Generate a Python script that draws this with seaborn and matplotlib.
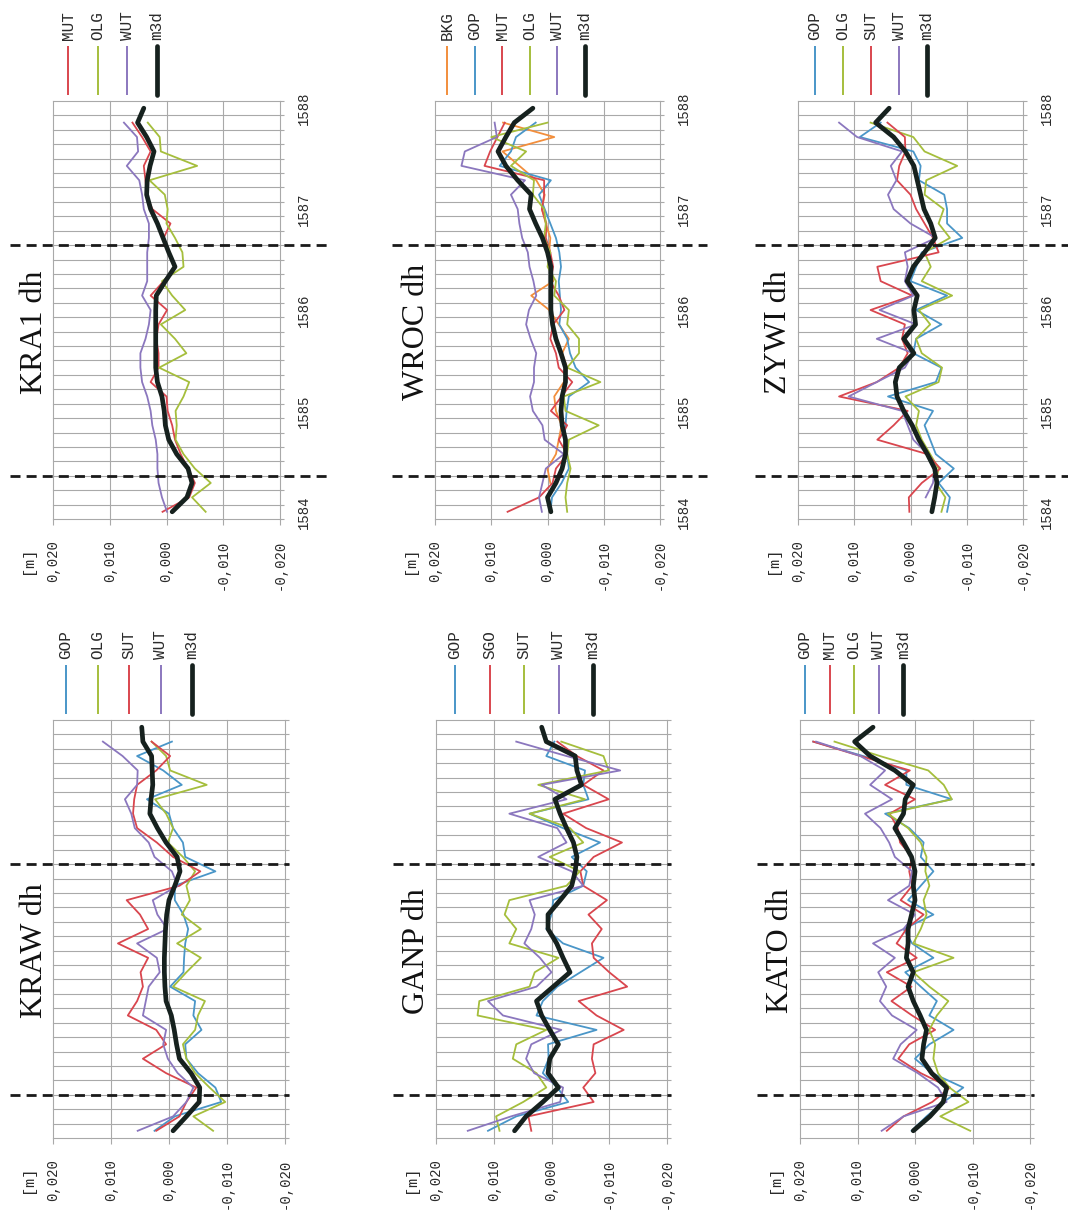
import numpy as np
import pandas as pd
import matplotlib
matplotlib.use("Agg")
import matplotlib.pyplot as plt
import matplotlib.transforms as mtrans
from matplotlib.lines import Line2D
import seaborn as sns

nan = np.nan

# daily solutions, GPS weeks 1584.0 - 1588.0 (29 days)
days = np.arange(29)
week_ticks = [0, 7, 14, 21, 28]
week_labels = ['1584', '1585', '1586', '1587', '1588']
value_ticks = [0.020, 0.010, 0.000, -0.010, -0.020]
value_labels = ['0,020', '0,010', '0,000', '-0,010', '-0,020']
breaks = [2.5, 18.5]   # dashed epochs

# dh values, in mm
kra1_mut = [0.7, -4.0, -5.0, -3.8, -2.5, -1.5, -1.0, -0.2, 0.0, 2.8, 1.4, 1.4, 1.8, 1.4, -0.1, 2.8, 0.5, -1.6, -0.5, 0.5, -0.7, 2.5, 3.5, 3.7, 4.0, 2.8, 4.3, 6.0, nan]
kra1_olg = [-6.9, -4.5, -7.8, -5.0, -3.0, -1.6, -1.8, -1.6, -3.0, -4.0, 1.3, -3.5, -1.5, 1.0, -3.3, -1.0, 0.8, -3.0, -2.8, -1.5, 0.0, -0.2, 0.3, 3.0, -5.4, 1.0, 1.2, 3.3, nan]
kra1_wut = [-0.1, 0.8, 1.4, 1.6, 1.6, 1.9, 2.5, 2.8, 3.4, 4.3, 4.6, 4.6, 3.7, 3.1, 2.8, 4.3, 3.4, 3.4, 3.4, 3.1, 3.1, 4.0, 4.3, 4.8, 7.0, 5.0, 5.2, 7.5, nan]
kra1_m3d = [-1.0, -3.6, -4.5, -3.8, -1.8, -0.4, 0.2, 0.4, 0.8, 1.6, 1.9, 1.9, 1.9, 1.9, 1.9, 1.8, 0.2, -1.5, -0.4, 0.6, 1.6, 2.8, 3.5, 3.4, 2.9, 2.2, 3.5, 5.1, 4.0]

wroc_bkg = [nan, nan, -0.5, 0.0, -1.5, -2.0, -2.5, -1.5, -1.2, -2.9, -3.5, -2.6, -3.8, -2.0, -0.3, 2.9, -1.0, -0.5, -0.3, -0.5, 0.3, 1.0, 0.5, 2.0, 5.0, 8.0, -1.2, 7.9, nan]
wroc_gop = [-0.5, -0.8, -2.5, -3.8, -3.5, -3.0, -3.2, -3.4, -3.8, -7.4, -5.0, -4.0, -3.5, -2.1, -2.4, -2.2, -2.0, -2.4, -2.1, -1.5, -0.5, 0.5, 1.5, -0.6, 8.5, 6.5, 5.6, 2.1, nan]
wroc_mut = [7.1, 1.5, -0.9, -1.5, -3.5, -2.0, -3.5, -0.6, -2.5, -4.4, -2.0, -1.5, -0.5, -1.0, -3.0, -2.0, -0.5, -1.0, -0.5, 0.3, 0.2, 1.0, 0.6, 0.6, 11.2, 10.2, 8.9, 7.6, nan]
wroc_olg = [-3.5, -3.2, -3.5, -4.1, -3.5, -3.8, -9.1, -3.2, -2.9, -9.4, -3.5, -5.6, -5.6, -3.5, -3.8, -1.2, -1.5, 0.0, -0.5, 0.6, 0.3, 0.6, 2.6, 2.4, 6.5, 3.8, 10.0, 0.0, nan]
wroc_wut = [1.0, 1.5, 0.9, 0.3, -2.9, 0.5, 0.9, 2.6, 3.1, 2.4, 2.4, 2.0, 3.0, 3.8, 3.3, 2.0, 2.5, 3.2, 3.5, 4.5, 5.0, 5.3, 6.5, 4.0, 15.3, 14.7, 9.0, 9.4, nan]
wroc_m3d = [-0.6, 0.0, -1.5, -2.6, -3.2, -3.2, -2.6, -2.4, -2.6, -3.2, -3.2, -2.4, -1.5, -0.9, -0.6, -0.6, -0.6, -0.6, 0.0, 0.9, 2.1, 3.2, 2.9, 5.3, 7.4, 8.8, 7.4, 5.9, 2.6]

zywi_gop = [-6.5, -7.0, -5.0, -7.7, -4.5, -3.5, -2.5, -4.0, 4.0, -4.5, -5.5, -0.5, -1.0, -5.5, -1.0, -6.5, 0.0, -1.0, -2.0, -9.2, -6.5, -6.5, -6.0, -1.5, -1.8, -0.5, 9.0, 5.3, nan]
zywi_olg = [-5.5, -6.2, -4.5, -5.0, -3.5, -2.0, -1.0, -1.5, 0.9, -5.0, -5.6, -2.0, -1.0, -3.5, -1.5, -7.4, -2.0, -3.6, -2.5, -7.0, -5.0, -5.9, -2.5, -2.8, -8.3, -2.5, -0.5, 7.1, nan]
zywi_sut = [0.2, 0.3, -2.0, -5.3, -3.0, 5.9, 3.0, 0.5, 12.7, 6.0, 2.0, 0.5, 1.5, 1.0, 7.1, -0.3, 5.3, 5.9, -5.0, -4.0, -2.5, -1.0, 0.0, 2.4, 2.0, 0.9, 1.0, 4.1, nan]
zywi_wut = [nan, -2.7, -4.0, -4.3, -3.0, -0.5, 0.5, 1.5, 11.0, 6.0, 1.0, -0.5, 6.0, -1.0, 5.5, -0.5, 1.0, 0.5, 1.0, -4.5, 0.0, 3.0, 4.0, 2.5, 3.5, 1.5, 9.5, 12.7, nan]
zywi_m3d = [-3.8, -4.3, -4.7, -4.3, -3.0, -1.5, -0.3, 1.2, 2.4, 2.7, 2.0, -0.6, 1.2, -0.9, -0.6, -1.2, 0.6, -0.5, -2.5, -4.4, -3.6, -2.4, -1.8, -1.2, -0.6, 0.9, 3.0, 6.2, 3.8]

kraw_gop = [2.5, -1.0, -9.0, -8.0, -5.0, -3.0, -2.8, -5.6, -4.2, -4.5, -0.2, -2.5, -2.6, -2.8, -3.3, -2.5, -1.0, -1.0, -8.0, -2.8, -2.4, -0.7, 0.0, 3.8, -2.2, 1.0, 5.5, -0.5, nan]
kraw_olg = [-7.6, -4.2, -9.7, -7.0, -4.5, -3.0, -2.4, -4.5, -5.0, -6.2, -0.7, -3.0, -5.5, -1.4, -5.5, -2.2, -3.6, -3.0, -4.5, -2.4, 0.2, -0.7, 0.5, 2.4, -6.5, -0.2, 0.5, 3.0, nan]
kraw_sut = [2.2, -1.8, -3.0, -4.7, 0.5, 4.5, 0.5, 2.2, 7.1, 5.5, 4.5, 4.9, 3.6, 8.8, 3.6, 5.0, 7.3, -1.8, -5.4, -0.7, 2.1, 5.5, 6.2, 6.0, 5.5, 2.2, -0.2, 3.0, nan]
kraw_wut = [5.4, -0.7, -3.0, -4.2, -1.5, 0.2, 1.0, 0.5, 4.5, 4.0, 3.5, 1.6, 2.1, 5.5, 0.3, 2.0, 2.8, -1.5, -0.5, 2.5, 3.5, 5.9, 6.5, 7.6, 5.5, 5.4, 8.0, 11.4, nan]
kraw_m3d = [-0.7, -3.0, -5.2, -5.3, -3.8, -1.8, -1.3, -0.9, -0.4, 0.5, 0.7, 0.8, 0.8, 0.7, 0.6, 0.4, 0.0, -1.0, -1.9, -1.4, 0.5, 2.0, 3.3, 3.1, 2.8, 2.9, 3.0, 4.5, 4.7]

ganp_gop = [11.0, 6.1, -2.9, -1.0, 1.5, 0.5, 0.6, -7.8, 2.6, 1.5, -1.0, -5.0, -9.0, -2.0, 0.9, 0.0, -0.3, -5.5, -6.1, -3.5, -8.4, -2.0, 3.8, -6.4, -5.5, -5.8, 0.9, -0.5, nan]
ganp_sgo = [3.5, 4.0, -7.3, -5.5, -7.6, -7.0, -7.3, -12.5, -7.8, -4.7, -13.1, -10.0, -7.3, -7.0, -8.7, -6.4, -9.6, -5.5, -5.0, -7.3, -12.2, -6.0, -2.0, -9.9, -5.5, -9.0, -4.4, -1.0, nan]
ganp_sut = [9.0, 9.6, 4.9, 0.9, 2.6, 6.7, 6.1, 0.9, 12.8, 12.5, 3.8, 2.9, -1.2, 7.3, 6.1, 8.1, 7.3, -2.6, -4.9, 0.3, -5.5, -3.2, 3.8, -5.8, 2.3, -9.9, -9.0, -1.7, nan]
ganp_wut = [14.5, 7.0, -1.5, -2.0, 3.0, 4.4, 3.5, -1.7, 8.4, 11.0, 2.6, 0.0, 2.0, 4.7, 3.5, 2.9, 3.8, -5.5, -3.5, 2.3, -2.6, -1.0, 7.3, -2.6, 1.7, -11.9, -2.6, 6.1, nan]
ganp_m3d = [6.4, 4.4, 1.5, -1.2, 0.6, 0.3, -1.2, 0.3, 1.7, 2.6, -0.3, -3.2, -2.0, -0.9, 0.6, 0.6, -1.5, -3.5, -4.1, -4.4, -3.8, -2.6, -1.5, -0.6, -5.2, -4.4, -4.1, 0.9, 1.7]

kato_gop = [0.6, -2.0, -5.0, -8.4, -3.0, 0.0, -2.5, -6.7, -2.5, -3.8, -1.0, 1.7, -3.2, 0.5, 2.0, -3.2, 1.2, -1.0, -3.2, -1.0, -1.5, 1.0, 5.2, -6.4, 1.5, 1.5, 9.0, 17.7, nan]
kato_mut = [4.9, 2.0, -3.0, -6.1, -1.0, 2.9, 1.0, -3.5, 0.5, 4.1, 0.6, 4.9, -0.3, 3.2, 1.5, -1.5, 2.5, 0.5, 1.0, 0.5, 2.6, 3.0, 4.4, 0.0, 5.2, 0.9, 9.5, 17.7, nan]
kato_olg = [-9.6, -4.4, -9.3, -6.0, -4.0, -3.2, -3.5, -2.5, -3.8, -5.8, -2.5, 0.3, -6.7, 0.3, -1.0, -2.0, -1.5, -2.5, -1.8, -2.0, -1.0, 1.2, 4.7, -6.4, -5.0, -2.3, 6.1, 14.0, nan]
kato_wut = [5.8, 2.0, -5.5, -4.0, -0.5, 3.8, 2.5, -0.3, 4.0, 6.1, 5.0, 6.4, 3.5, 7.3, 2.0, 0.0, 4.7, 1.0, 0.5, 3.5, 4.5, 6.0, 8.7, 4.0, 7.8, 5.2, 9.5, 17.2, nan]
kato_m3d = [0.3, -2.6, -4.9, -5.5, -2.9, -1.2, -1.5, -2.0, -0.9, 0.3, 1.2, 0.3, 1.5, 1.2, 1.2, 0.6, 0.0, 0.3, 0.0, 0.6, 2.0, 3.5, 2.0, 1.7, 0.3, 3.5, 7.8, 10.5, 7.3]

BLUE, RED, GREEN, PURPLE, ORANGE = '#4A96C8', '#D9464E', '#A5BE3C', '#8B77BE', '#F28E3C'
BLACK = '#16211e'
GRID = '#A9A9A9'
TXT = '#2a2a2a'

# page is turned 90 degrees: time runs upwards, dh runs right-to-left
panels = [
    dict(title='KRA1 dh', box=(53, 101, 280, 519), leg=(68, 29.7), weeks=True,
         series=[('MUT', kra1_mut, RED), ('OLG', kra1_olg, GREEN), ('WUT', kra1_wut, PURPLE)], m3d=kra1_m3d),
    dict(title='WROC dh', box=(435, 101, 660, 519), leg=(447, 27.6), weeks=True,
         series=[('BKG', wroc_bkg, ORANGE), ('GOP', wroc_gop, BLUE), ('MUT', wroc_mut, RED),
                 ('OLG', wroc_olg, GREEN), ('WUT', wroc_wut, PURPLE)], m3d=wroc_m3d),
    dict(title='ZYWI dh', box=(798, 101, 1023, 519), leg=(815, 28.0), weeks=True,
         series=[('GOP', zywi_gop, BLUE), ('OLG', zywi_olg, GREEN), ('SUT', zywi_sut, RED),
                 ('WUT', zywi_wut, PURPLE)], m3d=zywi_m3d),
    dict(title='KRAW dh', box=(53, 720, 285, 1138), leg=(66, 31.5), weeks=False,
         series=[('GOP', kraw_gop, BLUE), ('OLG', kraw_olg, GREEN), ('SUT', kraw_sut, RED),
                 ('WUT', kraw_wut, PURPLE)], m3d=kraw_m3d),
    dict(title='GANP dh', box=(436, 720, 667, 1138), leg=(455, 34.5), weeks=False,
         series=[('GOP', ganp_gop, BLUE), ('SGO', ganp_sgo, RED), ('SUT', ganp_sut, GREEN),
                 ('WUT', ganp_wut, PURPLE)], m3d=ganp_m3d),
    dict(title='KATO dh', box=(800, 720, 1030, 1138), leg=(805, 24.6), weeks=False,
         series=[('GOP', kato_gop, BLUE), ('MUT', kato_mut, RED), ('OLG', kato_olg, GREEN),
                 ('WUT', kato_wut, PURPLE)], m3d=kato_m3d),
]

W, H = 1068, 1223
fig = plt.figure(figsize=(W / 100, H / 100), dpi=100)


def fx(x):
    return x / W


def fy(y):
    return 1 - y / H


for p in panels:
    x0, y0, x1, y1 = p['box']
    ax = fig.add_axes([fx(x0), fy(y1), (x1 - x0) / W, (y1 - y0) / H])

    names = [s[0] for s in p['series']]
    pal = {s[0]: s[2] for s in p['series']}
    df = pd.DataFrame({s[0]: np.array(s[1]) / 1000 for s in p['series']})
    df['day'] = days
    long = df.melt(id_vars='day', var_name='station', value_name='dh').dropna()
    sns.lineplot(data=long, x='dh', y='day', hue='station', hue_order=names, palette=pal,
                 orient='y', estimator=None, lw=1.3, legend=False, ax=ax)
    sns.lineplot(x=np.array(p['m3d']) / 1000, y=days, orient='y', estimator=None, color=BLACK,
                 lw=3.4, solid_capstyle='round', solid_joinstyle='round', ax=ax)

    ax.set_xlim(0.020, -0.020)
    ax.set_ylim(-0.5, 28.5)
    ax.set_xlabel('')
    ax.set_ylabel('')
    for s in ax.spines.values():
        s.set_visible(False)

    ax.set_xticks(value_ticks)
    ax.set_xticklabels(value_labels, rotation=90, fontsize=10, family='Liberation Mono', color=TXT)
    ax.tick_params(axis='x', direction='out', length=4, width=0.8, color=GRID, pad=11)

    ax.set_yticks(np.arange(-0.5, 29, 1))
    ax.yaxis.set_ticks_position('right')
    ax.tick_params(axis='y', which='major', direction='out', length=3, width=0.8, color=GRID,
                   labelright=False, labelleft=False, left=False, right=True)
    ax.set_yticks(week_ticks, minor=True)
    ax.set_yticklabels(week_labels, minor=True, rotation=90, va='center', fontsize=10,
                       family='Liberation Mono', color=TXT)
    ax.tick_params(axis='y', which='minor', length=0, pad=12, left=False,
                   labelleft=False, labelright=p['weeks'])
    ax.grid(True, which='major', color=GRID, lw=0.8)
    ax.set_axisbelow(True)
    for gl in ax.get_xgridlines() + ax.get_ygridlines():
        gl.set_clip_on(False)

    # dashed epochs reaching past the plot area
    wpx = x1 - x0
    ext = 47 if p['weeks'] else 4
    tr = mtrans.blended_transform_factory(ax.transAxes, ax.transData)
    for b in breaks:
        ax.plot([-43 / wpx, 1 + ext / wpx], [b, b], transform=tr, color='#1a1a1a', lw=2,
                dashes=(3.6, 2.2), clip_on=False, zorder=6)

    fig.text(fx(x0 - 19), fy((y0 + y1) / 2 + 22), p['title'], rotation=90, ha='center',
             va='center', fontsize=23, family='Liberation Serif', color='#111111')
    fig.text(fx(x0 - 25), fy(y1 + 28), '[m]', rotation=90, ha='center', va='top',
             fontsize=11, family='Liberation Mono', color=TXT)

    # legend: short vertical strokes with turned labels above the panel
    lx, step = p['leg']
    entries = [(s[0], s[2]) for s in p['series']] + [('m3d', BLACK)]
    for k, (name, col) in enumerate(entries):
        x = lx + k * step
        thick = name == 'm3d'
        fig.add_artist(Line2D([fx(x), fx(x)], [fy(y0 - 6), fy(y0 - 55)], color=col,
                              lw=3.4 if thick else 1.4,
                              solid_capstyle='round' if thick else 'butt'))
        fig.text(fx(x), fy(y0 - 61), name, rotation=90, ha='center', va='bottom',
                 fontsize=11.5, family='Liberation Mono', color=TXT)

fig.savefig('out.png', dpi=100)
